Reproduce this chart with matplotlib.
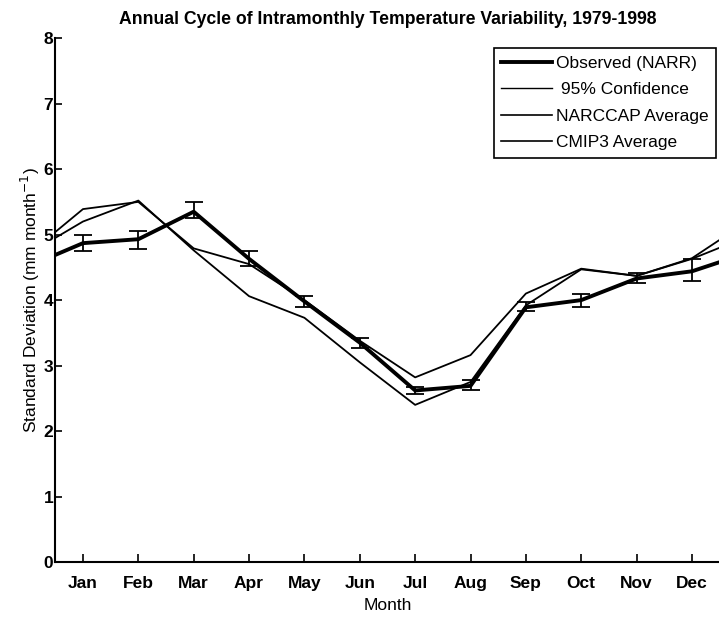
import numpy as np
import matplotlib
matplotlib.use('Agg')
import matplotlib.pyplot as plt
from matplotlib.lines import Line2D

plt.rcParams['font.family'] = ['Liberation Sans', 'DejaVu Sans']

months = ['Jan', 'Feb', 'Mar', 'Apr', 'May', 'Jun', 'Jul', 'Aug', 'Sep', 'Oct', 'Nov', 'Dec']
# x positions: half-month edges at both ends, months 1..12 in between
xpos = [0.5, 1, 2, 3, 4, 5, 6, 7, 8, 9, 10, 11, 12, 12.5]
observed = [4.69, 4.87, 4.93, 5.35, 4.63, 3.98, 3.35, 2.62, 2.69, 3.89, 4.00, 4.33, 4.44, 4.58]
ci_low = [4.75, 4.78, 5.25, 4.52, 3.89, 3.27, 2.57, 2.63, 3.83, 3.89, 4.26, 4.29]
ci_high = [5.00, 5.05, 5.50, 4.75, 4.06, 3.42, 2.67, 2.78, 3.97, 4.10, 4.41, 4.63]
narccap = [5.04, 5.39, 5.50, 4.79, 4.55, 4.00, 3.38, 2.82, 3.16, 4.10, 4.48, 4.37, 4.64, 4.92]
cmip3 = [4.95, 5.20, 5.52, 4.76, 4.06, 3.73, 3.05, 2.40, 2.75, 3.92, 4.47, 4.37, 4.63, 4.80]

fig = plt.figure(figsize=(7.19, 6.17), dpi=100)
ax = fig.add_axes([0.0769, 0.0891, 0.924, 0.849])

ax.plot(xpos, cmip3, color='k', lw=1.3)
ax.plot(xpos, narccap, color='k', lw=1.3)
ax.plot(xpos, observed, color='k', lw=2.8)
mx = np.arange(1, 13)
obs_m = np.array(observed[1:13])
ax.errorbar(mx, obs_m, yerr=[obs_m - np.array(ci_low), np.array(ci_high) - obs_m],
            fmt='none', ecolor='k', elinewidth=1.3, capsize=6.5, capthick=1.3)

ax.set_xlim(0.5, 12.5)
ax.set_ylim(0, 8)
ax.set_xticks(mx)
ax.set_xticklabels(months)
ax.set_yticks(range(0, 9))
for s in ['top', 'right']:
    ax.spines[s].set_visible(False)
for s in ['left', 'bottom']:
    ax.spines[s].set_linewidth(1.5)
ax.tick_params(axis='x', direction='in', length=6, width=1.2, pad=10, labelsize=12.5)
ax.tick_params(axis='y', direction='in', length=5, width=1.2, pad=1.5, labelsize=12.5)
for lab in ax.get_xticklabels() + ax.get_yticklabels():
    lab.set_fontweight('bold')

ax.set_xlabel('Month', fontsize=12.5, labelpad=5)
ax.set_ylabel('Standard Deviation (mm month$^{-1}$)', fontsize=12.5, labelpad=1)
ax.set_title('Annual Cycle of Intramonthly Temperature Variability, 1979-1998',
             fontsize=12.7, fontweight='bold', pad=10)

handles = [Line2D([], [], color='k', lw=2.8), Line2D([], [], color='k', lw=1.0),
           Line2D([], [], color='k', lw=1.2), Line2D([], [], color='k', lw=1.2)]
labels = ['Observed (NARR)', ' 95% Confidence', 'NARCCAP Average', 'CMIP3 Average']
leg = ax.legend(handles, labels, loc='upper right', bbox_to_anchor=(0.9944, 0.981),
                borderaxespad=0, fontsize=12.5, fancybox=False, edgecolor='k',
                framealpha=1, handlelength=2.9, handletextpad=0.25,
                borderpad=0.42, labelspacing=0.66)
leg.get_frame().set_linewidth(1.2)

fig.savefig('out.png', dpi=100)
